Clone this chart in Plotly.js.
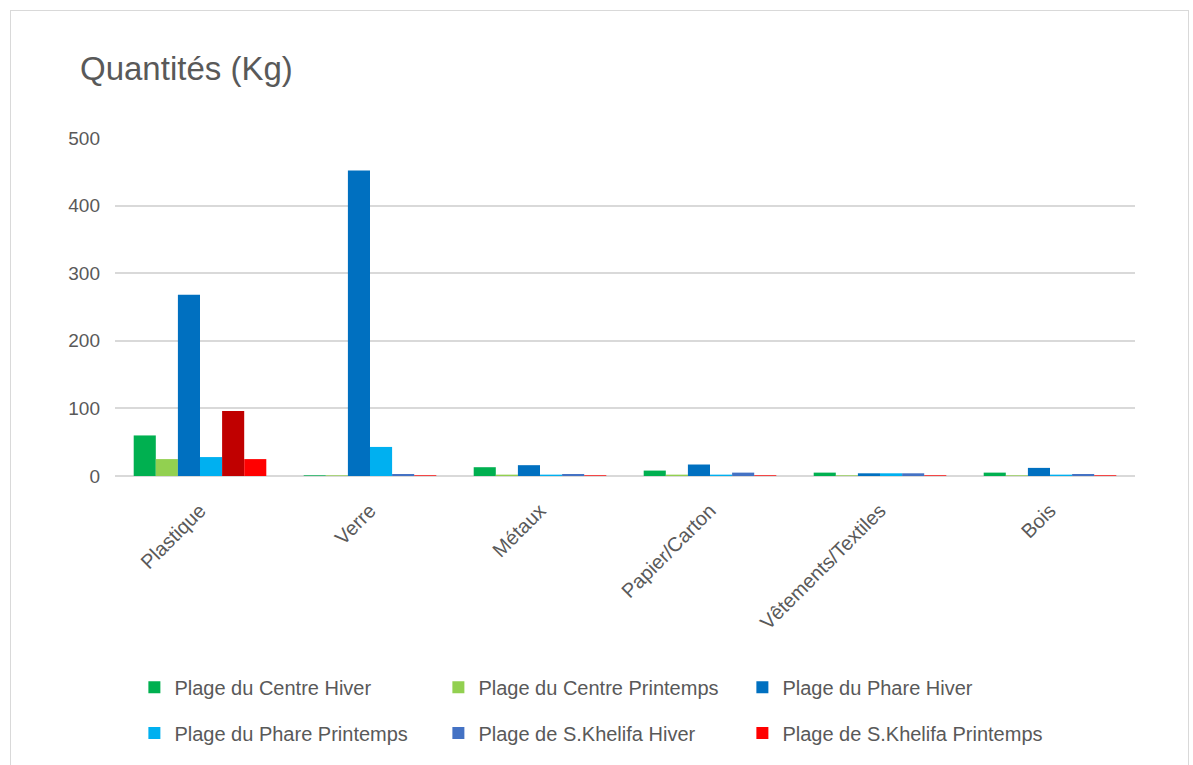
<!DOCTYPE html>
<html>
<head>
<meta charset="utf-8">
<script src="https://cdn.plot.ly/plotly-3.0.1.min.js"></script>
<style>
html,body{margin:0;padding:0;background:#fff;}
#frame{position:absolute;left:10px;top:10px;width:1179px;height:790px;border:1px solid #d9d9d9;box-sizing:border-box;pointer-events:none;}
#chart{position:absolute;left:0;top:0;width:1193px;height:765px;}
</style>
</head>
<body>
<div id="chart"></div>
<div id="frame"></div>
<script>
const categories = ["Plastique", "Verre", "Métaux", "Papier/Carton", "Vêtements/Textiles", "Bois"];
const seriesNames = ["Plage du Centre Hiver", "Plage du Centre Printemps", "Plage du Phare Hiver",
                     "Plage du Phare Printemps", "Plage de S.Khelifa Hiver", "Plage de S.Khelifa Printemps"];
const centreHiver = [60, 1, 13, 8, 5, 5];
const centrePrintemps = [25, 1, 2, 2, 1, 1];
const phareHiver = [268, 452, 16, 17, 4, 12];
const pharePrintemps = [28, 43, 2, 2, 4, 2];
const khelifaHiver = [96, 3, 3, 5, 4, 3];
const khelifaPrintemps = [25, 1, 1, 1, 1, 1];
const values = [centreHiver, centrePrintemps, phareHiver, pharePrintemps, khelifaHiver, khelifaPrintemps];
const colors = ["#00B050", "#92D050", "#0070C0", "#00B0F0", "#4472C4", "#FF0000"];
const khelifaHiverPointColors = ["#C00000", "#4472C4", "#4472C4", "#4472C4", "#4472C4", "#4472C4"];

const traces = values.map((v, i) => ({
  type: "bar",
  name: seriesNames[i],
  x: categories,
  y: v,
  marker: {color: i === 4 ? khelifaHiverPointColors : colors[i], line: {width: 0}},
  legend: i < 3 ? "legend" : "legend2",
  hoverinfo: "x+y+name"
}));

const textColor = "#595959";
const fam = "Liberation Sans, Arial, sans-serif";

const layout = {
  width: 1193, height: 765,
  margin: {l: 115, r: 58, t: 138, b: 286},
  paper_bgcolor: "rgba(0,0,0,0)",
  plot_bgcolor: "rgba(0,0,0,0)",
  font: {family: fam, color: textColor},
  barmode: "group",
  bargap: 0.22,
  bargroupgap: 0,
  showlegend: true,
  title: {
    text: "Quantités (Kg)",
    xref: "container", x: 80 / 1193, xanchor: "left",
    yref: "container", y: 1 - 68 / 765, yanchor: "middle",
    font: {family: fam, size: 33, color: textColor}
  },
  xaxis: {
    type: "category",
    tickangle: -45,
    tickfont: {size: 20, color: textColor},
    showgrid: false,
    showline: false,
    ticks: "",
    zeroline: false,
    ticklabelstandoff: 18
  },
  yaxis: {
    range: [0, 500],
    dtick: 100,
    tickfont: {size: 19, color: textColor},
    gridcolor: "#d9d9d9",
    gridwidth: 2,
    zeroline: true,
    zerolinecolor: "#d9d9d9",
    zerolinewidth: 2,
    showline: false,
    ticks: "",
    ticklabelstandoff: 14
  },
  legend: {
    orientation: "h",
    x: 0.019, xanchor: "left",
    y: -0.625, yanchor: "middle",
    entrywidth: 259, entrywidthmode: "pixels",
    font: {size: 20, color: textColor},
    bgcolor: "rgba(0,0,0,0)"
  },
  legend2: {
    orientation: "h",
    x: 0.019, xanchor: "left",
    y: -0.76, yanchor: "middle",
    entrywidth: 259, entrywidthmode: "pixels",
    font: {size: 20, color: textColor},
    bgcolor: "rgba(0,0,0,0)"
  }
};

function fixLegendSymbol() {
  // legend symbol of "Plage de S.Khelifa Hiver" shows the series colour, not the overridden point colour
  const gd = document.getElementById("chart");
  gd.querySelectorAll("text").forEach(txt => {
    if (txt.textContent.trim() === seriesNames[4]) {
      const grp = txt.parentNode;
      grp.querySelectorAll("path").forEach(p => {
        p.style.fill = colors[4];
        p.style.stroke = colors[4];
        p.style.strokeWidth = "0px";
      });
    }
  });
}

Plotly.newPlot("chart", traces, layout, {displayModeBar: false, staticPlot: true}).then(() => {
  fixLegendSymbol();
  requestAnimationFrame(fixLegendSymbol);
});
</script>
</body>
</html>
